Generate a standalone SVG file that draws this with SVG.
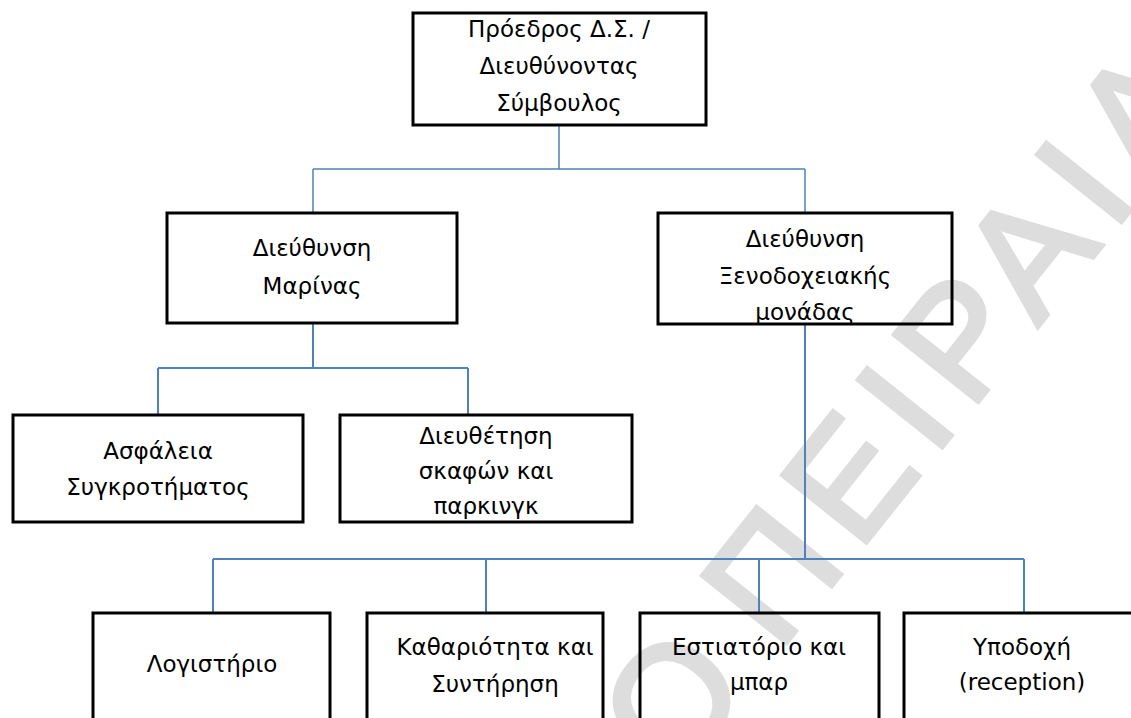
<svg xmlns="http://www.w3.org/2000/svg" width="1131" height="718" viewBox="0 0 1131 718">
<style>
.box{fill:none;stroke:#000;stroke-width:3}
.t{font-family:"DejaVu Sans","Liberation Sans",sans-serif;font-size:23px;fill:#000;text-anchor:middle}
.c{fill:none;stroke:#4F81BD;stroke-width:2}
.c1{fill:none;stroke:#4F81BD;stroke-width:1.5}
.wm{font-family:"Liberation Sans",Arial,sans-serif;font-size:156px;fill:#dddddd;stroke:#dddddd;stroke-width:5;stroke-linejoin:miter}
.sp{letter-spacing:16px}
</style>
<rect width="1131" height="718" fill="#fff"/>
<g id="watermark">
<text class="wm" transform="translate(676,781.5) rotate(-51.5)" x="0" y="0">Ο <tspan class="sp">ΠΕΙΡΑΙΑ</tspan></text>
</g>
<g id="connectors">
<path class="c1" d="M559,125 V169 M313,169 H805 M313,169 V213 M805,169 V213"/>
<path class="c" d="M313,323 V368 M158,368 H468 M158,368 V415 M468,368 V415"/>
<path class="c" d="M805,324 V559 M213,559 H1024 M213,559 V613 M486,559 V613 M759,559 V613 M1024,559 V613"/>
</g>
<g id="ceo">
<rect class="box" x="413" y="13" width="293" height="112"/>
<text class="t" x="559" y="37">Πρόεδρος Δ.Σ. /</text>
<text class="t" x="559" y="74">Διευθύνοντας</text>
<text class="t" x="559" y="111">Σύμβουλος</text>
</g>
<g id="marina">
<rect class="box" x="167" y="213" width="290" height="110"/>
<text class="t" x="312" y="256">Διεύθυνση</text>
<text class="t" x="312" y="294">Μαρίνας</text>
</g>
<g id="hotel">
<rect class="box" x="658" y="213" width="294" height="111"/>
<text class="t" x="805" y="247">Διεύθυνση</text>
<text class="t" x="805" y="284">Ξενοδοχειακής</text>
<text class="t" x="805" y="320">μονάδας</text>
</g>
<g id="security">
<rect class="box" x="13" y="415" width="290" height="107"/>
<text class="t" x="158" y="459">Ασφάλεια</text>
<text class="t" x="158" y="495">Συγκροτήματος</text>
</g>
<g id="berthing">
<rect class="box" x="340" y="415" width="292" height="107"/>
<text class="t" x="486" y="444">Διευθέτηση</text>
<text class="t" x="486" y="479">σκαφών και</text>
<text class="t" x="486" y="514">παρκινγκ</text>
</g>
<g id="accounting">
<rect class="box" x="93" y="613" width="237" height="130"/>
<text class="t" x="212" y="672">Λογιστήριο</text>
</g>
<g id="cleaning">
<rect class="box" x="367" y="613" width="236" height="130"/>
<text class="t" x="495" y="655">Καθαριότητα και</text>
<text class="t" x="495" y="692">Συντήρηση</text>
</g>
<g id="restaurant">
<rect class="box" x="640" y="613" width="239" height="130"/>
<text class="t" x="759" y="655">Εστιατόριο και</text>
<text class="t" x="759" y="690">μπαρ</text>
</g>
<g id="reception">
<rect class="box" x="904" y="613" width="240" height="130"/>
<text class="t" x="1022" y="655">Υποδοχή</text>
<text class="t" x="1022" y="690">(reception)</text>
</g>
</svg>
